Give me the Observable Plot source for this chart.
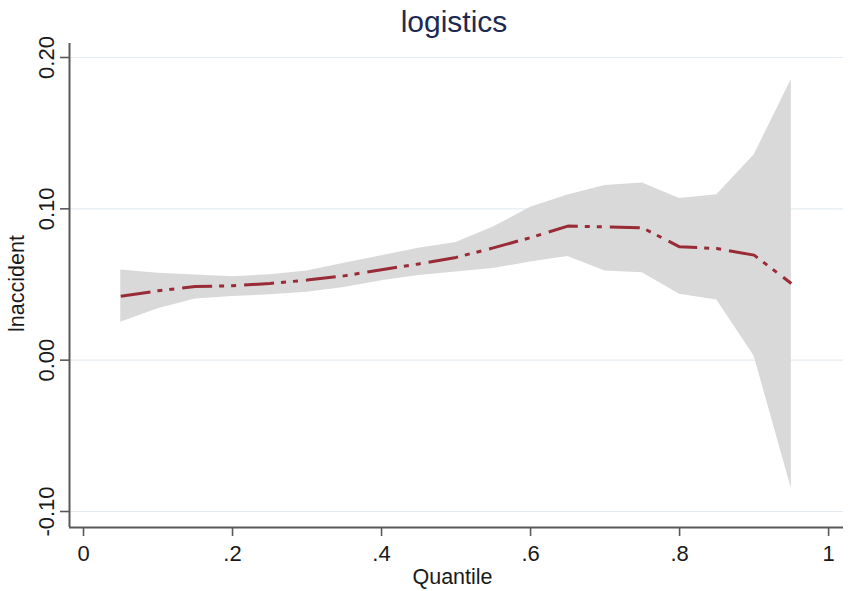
<!DOCTYPE html>
<html>
<head>
<meta charset="utf-8">
<script src="https://cdn.jsdelivr.net/npm/d3@7"></script>
<script src="https://cdn.jsdelivr.net/npm/@observablehq/plot@0.6"></script>
<style>
  html, body { margin: 0; padding: 0; background: #fff; }
  #chart svg { display: block; }
</style>
</head>
<body>
<div id="chart"></div>
<script>
const quantiles = [0.05, 0.10, 0.15, 0.20, 0.25, 0.30, 0.35, 0.40, 0.45, 0.50, 0.55, 0.60, 0.65, 0.70, 0.75, 0.80, 0.85, 0.90, 0.95];
const coef  = [0.0423, 0.0458, 0.0487, 0.0492, 0.0507, 0.0529, 0.0557, 0.0598, 0.0636, 0.0679, 0.0742, 0.0810, 0.0886, 0.0881, 0.0875, 0.0749, 0.0738, 0.0694, 0.0507];
const upper = [0.0595, 0.0575, 0.0562, 0.0552, 0.0564, 0.0589, 0.0640, 0.0690, 0.0740, 0.0778, 0.0880, 0.1010, 0.1092, 0.1155, 0.1170, 0.1069, 0.1093, 0.1355, 0.1855];
const lower = [0.0250, 0.0340, 0.0405, 0.0420, 0.0432, 0.0448, 0.0480, 0.0525, 0.0560, 0.0582, 0.0605, 0.0648, 0.0685, 0.0590, 0.0577, 0.0436, 0.0397, 0.0027, -0.0848];

const xTicks = [0, 0.2, 0.4, 0.6, 0.8, 1];
const xTickLabels = ["0", ".2", ".4", ".6", ".8", "1"];
const yTicks = [-0.1, 0, 0.1, 0.2];
const yTickLabels = ["-0.10", "0.00", "0.10", "0.20"];

const titleText = "logistics";
const xLabel = "Quantile";
const yLabel = "lnaccident";

const xDomain = [-0.0188, 1.0200];
const yDomain = [-0.11057, 0.20925];

const data = quantiles.map((q, i) => ({q, b: coef[i], lo: lower[i], hi: upper[i]}));

const font = "'Liberation Sans', Arial, Helvetica, sans-serif";
const axisColor = "#595959";

const chart = Plot.plot({
  width: 851,
  height: 591,
  marginLeft: 69,
  marginRight: 8,
  marginTop: 43,
  marginBottom: 64,
  style: {fontFamily: font, background: "#fff", color: "#1a1a1a"},
  x: {domain: xDomain},
  y: {domain: yDomain},
  marks: [
    Plot.ruleY(yTicks, {stroke: "#e4ebf0", strokeWidth: 1.2}),
    Plot.areaY(data, {x: "q", y1: "lo", y2: "hi", fill: "#d9d9d9"}),
    Plot.line(data, {x: "q", y: "b", stroke: "#982b36", strokeWidth: 3, strokeDasharray: "30,7,5,7,5,8", strokeLinecap: "butt"}),
    Plot.ruleX([xDomain[0]], {stroke: axisColor, strokeWidth: 2}),
    Plot.ruleY([yDomain[0]], {stroke: axisColor, strokeWidth: 2}),
    Plot.axisX({
      ticks: xTicks,
      tickFormat: (d) => xTickLabels[xTicks.indexOf(d)],
      tickSize: 9,
      tickPadding: 9,
      fontSize: 22,
      stroke: axisColor,
      strokeWidth: 1.6,
      label: null
    }),
    Plot.axisY({
      ticks: yTicks,
      tickFormat: (d) => yTickLabels[yTicks.indexOf(d)],
      tickSize: 9,
      tickPadding: 7,
      tickRotate: -90,
      fontSize: 22,
      stroke: axisColor,
      strokeWidth: 1.6,
      label: null
    }),
    Plot.text([titleText], {frameAnchor: "top", lineAnchor: "bottom", dy: -12, dx: -2.5, fontSize: 30, fill: "#1c2a52"}),
    Plot.text([xLabel], {frameAnchor: "bottom", lineAnchor: "bottom", dy: 56, dx: -4, fontSize: 21.5, fill: "#1a1a1a"}),
    Plot.text([yLabel], {frameAnchor: "left", textAnchor: "middle", rotate: -90, lineAnchor: "bottom", dx: -46, dy: -2, fontSize: 21.5, fill: "#1a1a1a"})
  ]
});
document.getElementById("chart").appendChild(chart);
</script>
</body>
</html>
